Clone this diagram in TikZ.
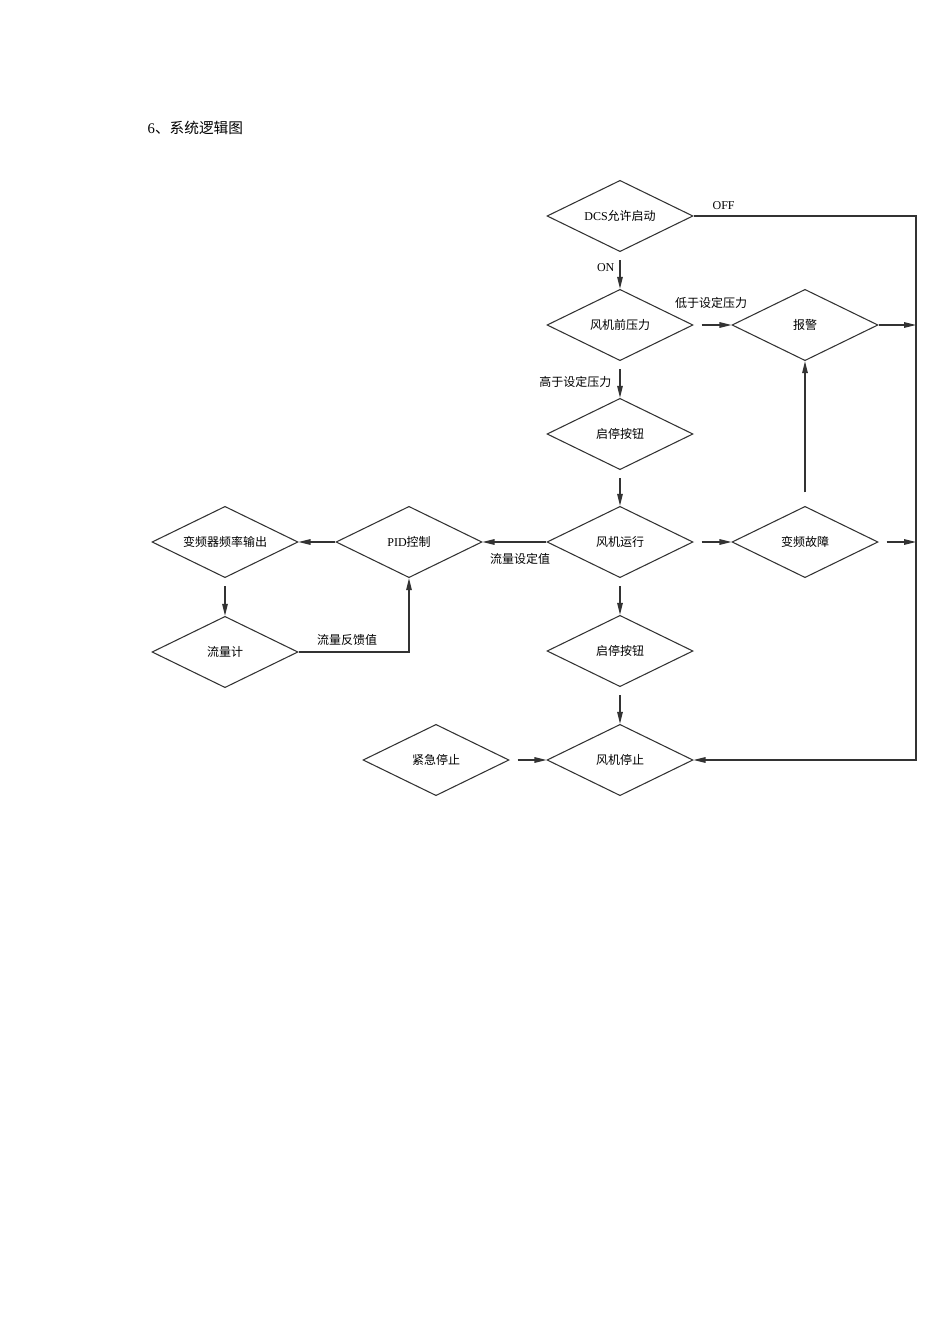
\documentclass[tikz,border=0pt]{standalone}
\usepackage{fontspec}
\setmainfont{Liberation Serif}
\newfontfamily\cjk{Noto Sans CJK SC}
\usepackage{tikz}
\usetikzlibrary{shapes.geometric, arrows.meta, positioning, calc}

\begin{document}
\begin{tikzpicture}[
  x=0.75pt, y=-0.75pt,
  font=\fontsize{9}{11}\selectfont,
  dia/.style  ={diamond, aspect=2.05, draw=black!80, line width=0.8pt, inner sep=0pt,
                minimum width=109.5pt, minimum height=53.5pt},
  arr/.style  ={-{Triangle[length=9pt,width=4.2pt]}, draw=black!80, line width=0.9pt},
  gap/.style  ={shorten <=6pt},
  lbl/.style  ={inner sep=1pt},
]
\useasboundingbox (0,0) rectangle (950,1344);

% --- Title ---
\node[anchor=west, font=\fontsize{11}{13}\selectfont] (title) at (143,128) {6{\cjk 、系统逻辑图}};

% --- Main column (x = 620) ---
\node[dia] (dcs)   at (620,216) {DCS{\cjk 允许启动}};
\node[dia] (press) at (620,325) {\cjk 风机前压力};
\node[dia] (btn1)  at (620,434) {\cjk 启停按钮};
\node[dia] (run)   at (620,542) {\cjk 风机运行};
\node[dia] (btn2)  at (620,651) {\cjk 启停按钮};
\node[dia] (stop)  at (620,760) {\cjk 风机停止};

% --- Right column (x = 805) ---
\node[dia] (alarm) at (805,325) {\cjk 报警};
\node[dia] (fault) at (805,542) {\cjk 变频故障};

% --- Left side ---
\node[dia] (pid)   at (409,542) {PID{\cjk 控制}};
\node[dia] (vfd)   at (225,542) {\cjk 变频器频率输出};
\node[dia] (flow)  at (225,652) {\cjk 流量计};
\node[dia] (estop) at (436,760) {\cjk 紧急停止};

% --- Bus on the right ---
\coordinate (busA) at (916,325);
\coordinate (busF) at (916,542);
\coordinate (busS) at (916,760);

% --- Arrows ---
\draw[arr] (dcs.east) -| (busS) -- (stop.east);
\draw[arr, gap] (dcs.south) -- (press.north);
\draw[arr, gap] (press.east) -- (alarm.west);
\draw[arr] (alarm.east) -- (busA);
\draw[arr, gap] (press.south) -- (btn1.north);
\draw[arr, gap] (btn1.south) -- (run.north);
\draw[arr, gap] (run.east) -- (fault.west);
\draw[arr, gap] (fault.east) -- (busF);
\draw[arr, shorten <=10pt] (fault.north) -- (alarm.south);
\draw[arr] (run.west) -- (pid.east);
\draw[arr] (pid.west) -- (vfd.east);
\draw[arr, gap] (vfd.south) -- (flow.north);
\draw[arr] (flow.east) -| (pid.south);
\draw[arr, gap] (run.south) -- (btn2.north);
\draw[arr, gap] (btn2.south) -- (stop.north);
\draw[arr, gap] (estop.east) -- (stop.west);

% --- Labels ---
\node[lbl, anchor=west] (off) at (711,206) {OFF};
\node[lbl, anchor=east] (on)  at (616,268) {ON};
\node[lbl] (low)  at (711,303) {\cjk 低于设定压力};
\node[lbl, anchor=east] (high) at (613,382) {\cjk 高于设定压力};
\node[lbl] (fset) at (520,559) {\cjk 流量设定值};
\node[lbl] (fbk)  at (347,640) {\cjk 流量反馈值};
\end{tikzpicture}
\end{document}
